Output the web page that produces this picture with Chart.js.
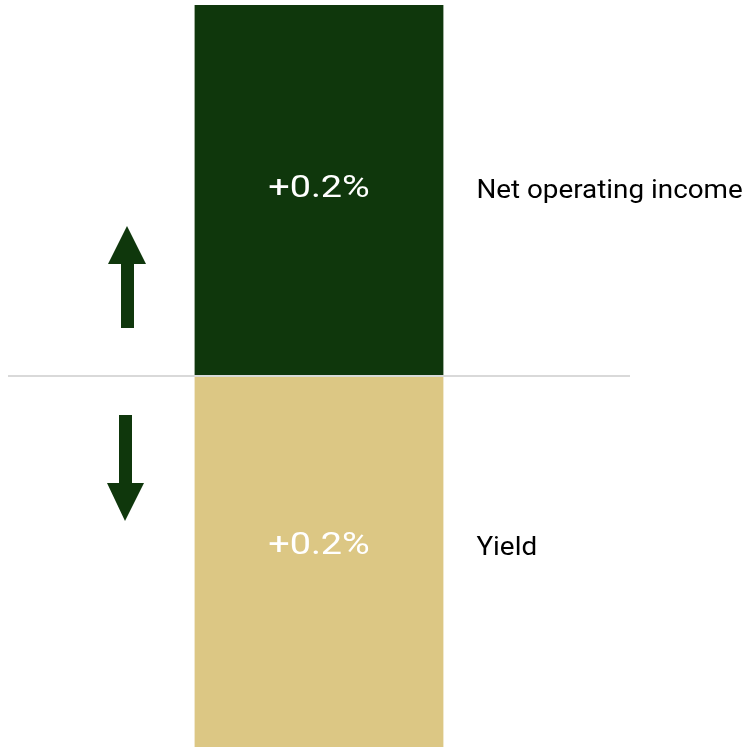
<!DOCTYPE html>
<html>
<head>
<meta charset="utf-8">
<script src="https://cdn.jsdelivr.net/npm/chart.js@4/dist/chart.umd.min.js"></script>
<style>
  html, body { margin: 0; padding: 0; background: #ffffff; }
  #wrap { width: 749px; height: 747px; position: relative; }
</style>
</head>
<body>
<div id="wrap"><canvas id="chart"></canvas></div>
<script>
// Contributions to the change, stacked in one column
const categories = ['Change'];
const seriesNames = ['Yield', 'Net operating income'];
const yieldValues = [0.2];
const noiValues = [0.2];
const seriesColors = ['#dcc784', '#0f370c'];
const arrowColor = '#0f370c';
const dividerValue = 0.2;

// draw text with a horizontal stretch factor
function wideText(ctx, text, x, y, sx) {
  ctx.save();
  ctx.translate(x, y);
  ctx.scale(sx, 1);
  ctx.fillText(text, 0, 0);
  ctx.restore();
}

// Value labels inside the segments, names to the right, divider and arrows
const annotate = {
  id: 'annotate',
  afterDatasetsDraw(chart) {
    const ctx = chart.ctx;
    const area = chart.chartArea;
    const yScale = chart.scales.y;
    const yLine = yScale.getPixelForValue(dividerValue);

    ctx.save();
    // divider line across the plot
    ctx.strokeStyle = '#d9d9d9';
    ctx.lineWidth = 2;
    ctx.beginPath();
    ctx.moveTo(area.left, yLine);
    ctx.lineTo(area.right, yLine);
    ctx.stroke();

    chart.data.datasets.forEach((ds, i) => {
      const el = chart.getDatasetMeta(i).data[0];
      const mid = (el.y + el.base) / 2;
      const labelY = i === 1 ? mid - 1 : mid - 15;
      ctx.fillStyle = '#ffffff';
      ctx.font = '31px Roboto';
      ctx.textAlign = 'center';
      ctx.textBaseline = 'middle';
      wideText(ctx, '+' + ds.data[0].toFixed(1) + '%', el.x, labelY, 1.22);

      ctx.fillStyle = '#000000';
      ctx.font = '26px Roboto';
      ctx.textAlign = 'left';
      wideText(ctx, ds.label, el.x + el.width / 2 + 33, labelY + 2, 1.07);
    });

    // up arrow (income) and down arrow (yield)
    const ax = area.left;
    ctx.fillStyle = arrowColor;
    ctx.beginPath();
    ctx.moveTo(ax + 119, yLine - 150);
    ctx.lineTo(ax + 138, yLine - 112);
    ctx.lineTo(ax + 126, yLine - 112);
    ctx.lineTo(ax + 126, yLine - 48);
    ctx.lineTo(ax + 113, yLine - 48);
    ctx.lineTo(ax + 113, yLine - 112);
    ctx.lineTo(ax + 100, yLine - 112);
    ctx.closePath();
    ctx.fill();

    ctx.beginPath();
    ctx.moveTo(ax + 111, yLine + 39);
    ctx.lineTo(ax + 124, yLine + 39);
    ctx.lineTo(ax + 124, yLine + 107);
    ctx.lineTo(ax + 136, yLine + 107);
    ctx.lineTo(ax + 117, yLine + 145);
    ctx.lineTo(ax + 99, yLine + 107);
    ctx.lineTo(ax + 111, yLine + 107);
    ctx.closePath();
    ctx.fill();
    ctx.restore();
  }
};

new Chart(document.getElementById('chart'), {
  type: 'bar',
  data: {
    labels: categories,
    datasets: [
      { label: seriesNames[0], data: yieldValues, backgroundColor: seriesColors[0] },
      { label: seriesNames[1], data: noiValues, backgroundColor: seriesColors[1] }
    ]
  },
  options: {
    responsive: true,
    maintainAspectRatio: false,
    animation: false,
    layout: { padding: { left: 8, right: 119, top: 5, bottom: 0 } },
    categoryPercentage: 1,
    barPercentage: 0.4,
    plugins: { legend: { display: false }, tooltip: { enabled: false } },
    scales: {
      x: { stacked: true, display: false },
      y: { stacked: true, display: false, min: 0, max: 0.4 }
    }
  },
  plugins: [annotate]
});
</script>
</body>
</html>
